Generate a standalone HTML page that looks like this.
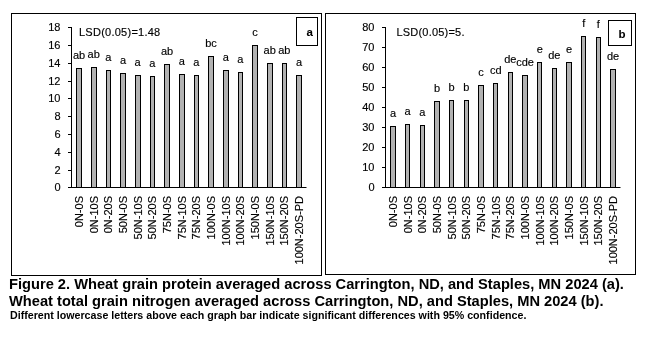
<!DOCTYPE html>
<html><head><meta charset="utf-8"><style>
html,body{margin:0;padding:0;background:#fff;width:645px;height:339px;overflow:hidden;}
svg{position:absolute;left:0;top:0;will-change:transform;}
.cap{position:absolute;left:9px;font-family:"Liberation Sans", sans-serif;font-weight:bold;white-space:nowrap;color:#000;will-change:transform;}
</style></head><body>
<svg width="645" height="339" viewBox="0 0 645 339" font-family='"Liberation Sans", sans-serif' fill="#000" stroke-width="0.15">
<rect x="11.5" y="13.5" width="310" height="262" fill="none" stroke="#000" stroke-width="1"/>
<line x1="71.5" y1="27" x2="71.5" y2="188" stroke="#000" stroke-width="1"/>
<line x1="69" y1="187.5" x2="306.5" y2="187.5" stroke="#000" stroke-width="1"/>
<line x1="68" y1="187.5" x2="72" y2="187.5" stroke="#000" stroke-width="1"/>
<text x="60.5" y="190.5" text-anchor="end" font-size="11" stroke="#000">0</text>
<line x1="68" y1="170.5" x2="72" y2="170.5" stroke="#000" stroke-width="1"/>
<text x="60.5" y="173.5" text-anchor="end" font-size="11" stroke="#000">2</text>
<line x1="68" y1="152.5" x2="72" y2="152.5" stroke="#000" stroke-width="1"/>
<text x="60.5" y="155.5" text-anchor="end" font-size="11" stroke="#000">4</text>
<line x1="68" y1="134.5" x2="72" y2="134.5" stroke="#000" stroke-width="1"/>
<text x="60.5" y="137.5" text-anchor="end" font-size="11" stroke="#000">6</text>
<line x1="68" y1="116.5" x2="72" y2="116.5" stroke="#000" stroke-width="1"/>
<text x="60.5" y="119.5" text-anchor="end" font-size="11" stroke="#000">8</text>
<line x1="68" y1="98.5" x2="72" y2="98.5" stroke="#000" stroke-width="1"/>
<text x="60.5" y="101.5" text-anchor="end" font-size="11" stroke="#000">10</text>
<line x1="68" y1="81.5" x2="72" y2="81.5" stroke="#000" stroke-width="1"/>
<text x="60.5" y="84.5" text-anchor="end" font-size="11" stroke="#000">12</text>
<line x1="68" y1="63.5" x2="72" y2="63.5" stroke="#000" stroke-width="1"/>
<text x="60.5" y="66.5" text-anchor="end" font-size="11" stroke="#000">14</text>
<line x1="68" y1="45.5" x2="72" y2="45.5" stroke="#000" stroke-width="1"/>
<text x="60.5" y="48.5" text-anchor="end" font-size="11" stroke="#000">16</text>
<line x1="68" y1="27.5" x2="72" y2="27.5" stroke="#000" stroke-width="1"/>
<text x="60.5" y="30.5" text-anchor="end" font-size="11" stroke="#000">18</text>
<rect x="76.5" y="68.5" width="5" height="119" fill="#b2b2b2" stroke="#000" stroke-width="1"/>
<text x="79.00" y="59" text-anchor="middle" font-size="11" stroke="#000">ab</text>
<text transform="translate(83.00,196) rotate(-90)" text-anchor="end" font-size="11" stroke="#000">0N-0S</text>
<rect x="91.5" y="67.5" width="5" height="120" fill="#b2b2b2" stroke="#000" stroke-width="1"/>
<text x="93.67" y="58" text-anchor="middle" font-size="11" stroke="#000">ab</text>
<text transform="translate(97.67,196) rotate(-90)" text-anchor="end" font-size="11" stroke="#000">0N-10S</text>
<rect x="106.5" y="70.5" width="4" height="117" fill="#b2b2b2" stroke="#000" stroke-width="1"/>
<text x="108.34" y="61" text-anchor="middle" font-size="11" stroke="#000">a</text>
<text transform="translate(112.34,196) rotate(-90)" text-anchor="end" font-size="11" stroke="#000">0N-20S</text>
<rect x="120.5" y="73.5" width="5" height="114" fill="#b2b2b2" stroke="#000" stroke-width="1"/>
<text x="123.01" y="64" text-anchor="middle" font-size="11" stroke="#000">a</text>
<text transform="translate(127.01,196) rotate(-90)" text-anchor="end" font-size="11" stroke="#000">50N-0S</text>
<rect x="135.5" y="75.5" width="5" height="112" fill="#b2b2b2" stroke="#000" stroke-width="1"/>
<text x="137.68" y="66" text-anchor="middle" font-size="11" stroke="#000">a</text>
<text transform="translate(141.68,196) rotate(-90)" text-anchor="end" font-size="11" stroke="#000">50N-10S</text>
<rect x="150.5" y="76.5" width="4" height="111" fill="#b2b2b2" stroke="#000" stroke-width="1"/>
<text x="152.35" y="67" text-anchor="middle" font-size="11" stroke="#000">a</text>
<text transform="translate(156.35,196) rotate(-90)" text-anchor="end" font-size="11" stroke="#000">50N-20S</text>
<rect x="164.5" y="64.5" width="5" height="123" fill="#b2b2b2" stroke="#000" stroke-width="1"/>
<text x="167.02" y="55" text-anchor="middle" font-size="11" stroke="#000">ab</text>
<text transform="translate(171.02,196) rotate(-90)" text-anchor="end" font-size="11" stroke="#000">75N-0S</text>
<rect x="179.5" y="74.5" width="5" height="113" fill="#b2b2b2" stroke="#000" stroke-width="1"/>
<text x="181.69" y="65" text-anchor="middle" font-size="11" stroke="#000">a</text>
<text transform="translate(185.69,196) rotate(-90)" text-anchor="end" font-size="11" stroke="#000">75N-10S</text>
<rect x="194.5" y="75.5" width="4" height="112" fill="#b2b2b2" stroke="#000" stroke-width="1"/>
<text x="196.36" y="66" text-anchor="middle" font-size="11" stroke="#000">a</text>
<text transform="translate(200.36,196) rotate(-90)" text-anchor="end" font-size="11" stroke="#000">75N-20S</text>
<rect x="208.5" y="56.5" width="5" height="131" fill="#b2b2b2" stroke="#000" stroke-width="1"/>
<text x="211.03" y="47" text-anchor="middle" font-size="11" stroke="#000">bc</text>
<text transform="translate(215.03,196) rotate(-90)" text-anchor="end" font-size="11" stroke="#000">100N-0S</text>
<rect x="223.5" y="70.5" width="5" height="117" fill="#b2b2b2" stroke="#000" stroke-width="1"/>
<text x="225.70" y="61" text-anchor="middle" font-size="11" stroke="#000">a</text>
<text transform="translate(229.70,196) rotate(-90)" text-anchor="end" font-size="11" stroke="#000">100N-10S</text>
<rect x="238.5" y="72.5" width="4" height="115" fill="#b2b2b2" stroke="#000" stroke-width="1"/>
<text x="240.37" y="63" text-anchor="middle" font-size="11" stroke="#000">a</text>
<text transform="translate(244.37,196) rotate(-90)" text-anchor="end" font-size="11" stroke="#000">100N-20S</text>
<rect x="252.5" y="45.5" width="5" height="142" fill="#b2b2b2" stroke="#000" stroke-width="1"/>
<text x="255.04" y="36" text-anchor="middle" font-size="11" stroke="#000">c</text>
<text transform="translate(259.04,196) rotate(-90)" text-anchor="end" font-size="11" stroke="#000">150N-0S</text>
<rect x="267.5" y="63.5" width="5" height="124" fill="#b2b2b2" stroke="#000" stroke-width="1"/>
<text x="269.71" y="54" text-anchor="middle" font-size="11" stroke="#000">ab</text>
<text transform="translate(273.71,196) rotate(-90)" text-anchor="end" font-size="11" stroke="#000">150N-10S</text>
<rect x="282.5" y="63.5" width="4" height="124" fill="#b2b2b2" stroke="#000" stroke-width="1"/>
<text x="284.38" y="54" text-anchor="middle" font-size="11" stroke="#000">ab</text>
<text transform="translate(288.38,196) rotate(-90)" text-anchor="end" font-size="11" stroke="#000">150N-20S</text>
<rect x="296.5" y="75.5" width="5" height="112" fill="#b2b2b2" stroke="#000" stroke-width="1"/>
<text x="299.05" y="66" text-anchor="middle" font-size="11" stroke="#000">a</text>
<text transform="translate(303.05,196) rotate(-90)" text-anchor="end" font-size="11" stroke="#000">100N-20S-PD</text>
<text x="79" y="36" font-size="11" letter-spacing="0.25" stroke="#000">LSD(0.05)=1.48</text>
<rect x="296.5" y="17.5" width="21" height="28" fill="#fff" stroke="#000" stroke-width="1"/>
<text x="309.7" y="36" text-anchor="middle" font-size="11.5" font-weight="bold" stroke="#000" stroke-width="0.05">a</text>
<rect x="325.5" y="13.5" width="310" height="261" fill="none" stroke="#000" stroke-width="1"/>
<line x1="385.5" y1="27" x2="385.5" y2="188" stroke="#000" stroke-width="1"/>
<line x1="383" y1="187.5" x2="620.5" y2="187.5" stroke="#000" stroke-width="1"/>
<line x1="382" y1="187.5" x2="386" y2="187.5" stroke="#000" stroke-width="1"/>
<text x="374.5" y="190.5" text-anchor="end" font-size="11" stroke="#000">0</text>
<line x1="382" y1="167.5" x2="386" y2="167.5" stroke="#000" stroke-width="1"/>
<text x="374.5" y="170.5" text-anchor="end" font-size="11" stroke="#000">10</text>
<line x1="382" y1="147.5" x2="386" y2="147.5" stroke="#000" stroke-width="1"/>
<text x="374.5" y="150.5" text-anchor="end" font-size="11" stroke="#000">20</text>
<line x1="382" y1="127.5" x2="386" y2="127.5" stroke="#000" stroke-width="1"/>
<text x="374.5" y="130.5" text-anchor="end" font-size="11" stroke="#000">30</text>
<line x1="382" y1="107.5" x2="386" y2="107.5" stroke="#000" stroke-width="1"/>
<text x="374.5" y="110.5" text-anchor="end" font-size="11" stroke="#000">40</text>
<line x1="382" y1="87.5" x2="386" y2="87.5" stroke="#000" stroke-width="1"/>
<text x="374.5" y="90.5" text-anchor="end" font-size="11" stroke="#000">50</text>
<line x1="382" y1="67.5" x2="386" y2="67.5" stroke="#000" stroke-width="1"/>
<text x="374.5" y="70.5" text-anchor="end" font-size="11" stroke="#000">60</text>
<line x1="382" y1="47.5" x2="386" y2="47.5" stroke="#000" stroke-width="1"/>
<text x="374.5" y="50.5" text-anchor="end" font-size="11" stroke="#000">70</text>
<line x1="382" y1="27.5" x2="386" y2="27.5" stroke="#000" stroke-width="1"/>
<text x="374.5" y="30.5" text-anchor="end" font-size="11" stroke="#000">80</text>
<rect x="390.5" y="126.5" width="5" height="61" fill="#b2b2b2" stroke="#000" stroke-width="1"/>
<text x="393.00" y="117" text-anchor="middle" font-size="11" stroke="#000">a</text>
<text transform="translate(397.00,196) rotate(-90)" text-anchor="end" font-size="11" stroke="#000">0N-0S</text>
<rect x="405.5" y="124.5" width="4" height="63" fill="#b2b2b2" stroke="#000" stroke-width="1"/>
<text x="407.67" y="115" text-anchor="middle" font-size="11" stroke="#000">a</text>
<text transform="translate(411.67,196) rotate(-90)" text-anchor="end" font-size="11" stroke="#000">0N-10S</text>
<rect x="420.5" y="125.5" width="4" height="62" fill="#b2b2b2" stroke="#000" stroke-width="1"/>
<text x="422.34" y="116" text-anchor="middle" font-size="11" stroke="#000">a</text>
<text transform="translate(426.34,196) rotate(-90)" text-anchor="end" font-size="11" stroke="#000">0N-20S</text>
<rect x="434.5" y="101.5" width="5" height="86" fill="#b2b2b2" stroke="#000" stroke-width="1"/>
<text x="437.01" y="92" text-anchor="middle" font-size="11" stroke="#000">b</text>
<text transform="translate(441.01,196) rotate(-90)" text-anchor="end" font-size="11" stroke="#000">50N-0S</text>
<rect x="449.5" y="100.5" width="4" height="87" fill="#b2b2b2" stroke="#000" stroke-width="1"/>
<text x="451.68" y="91" text-anchor="middle" font-size="11" stroke="#000">b</text>
<text transform="translate(455.68,196) rotate(-90)" text-anchor="end" font-size="11" stroke="#000">50N-10S</text>
<rect x="464.5" y="100.5" width="4" height="87" fill="#b2b2b2" stroke="#000" stroke-width="1"/>
<text x="466.35" y="91" text-anchor="middle" font-size="11" stroke="#000">b</text>
<text transform="translate(470.35,196) rotate(-90)" text-anchor="end" font-size="11" stroke="#000">50N-20S</text>
<rect x="478.5" y="85.5" width="5" height="102" fill="#b2b2b2" stroke="#000" stroke-width="1"/>
<text x="481.02" y="76" text-anchor="middle" font-size="11" stroke="#000">c</text>
<text transform="translate(485.02,196) rotate(-90)" text-anchor="end" font-size="11" stroke="#000">75N-0S</text>
<rect x="493.5" y="83.5" width="4" height="104" fill="#b2b2b2" stroke="#000" stroke-width="1"/>
<text x="495.69" y="74" text-anchor="middle" font-size="11" stroke="#000">cd</text>
<text transform="translate(499.69,196) rotate(-90)" text-anchor="end" font-size="11" stroke="#000">75N-10S</text>
<rect x="508.5" y="72.5" width="4" height="115" fill="#b2b2b2" stroke="#000" stroke-width="1"/>
<text x="510.36" y="63" text-anchor="middle" font-size="11" stroke="#000">de</text>
<text transform="translate(514.36,196) rotate(-90)" text-anchor="end" font-size="11" stroke="#000">75N-20S</text>
<rect x="522.5" y="75.5" width="5" height="112" fill="#b2b2b2" stroke="#000" stroke-width="1"/>
<text x="525.03" y="66" text-anchor="middle" font-size="11" stroke="#000">cde</text>
<text transform="translate(529.03,196) rotate(-90)" text-anchor="end" font-size="11" stroke="#000">100N-0S</text>
<rect x="537.5" y="62.5" width="4" height="125" fill="#b2b2b2" stroke="#000" stroke-width="1"/>
<text x="539.70" y="53" text-anchor="middle" font-size="11" stroke="#000">e</text>
<text transform="translate(543.70,196) rotate(-90)" text-anchor="end" font-size="11" stroke="#000">100N-10S</text>
<rect x="552.5" y="68.5" width="4" height="119" fill="#b2b2b2" stroke="#000" stroke-width="1"/>
<text x="554.37" y="59" text-anchor="middle" font-size="11" stroke="#000">de</text>
<text transform="translate(558.37,196) rotate(-90)" text-anchor="end" font-size="11" stroke="#000">100N-20S</text>
<rect x="566.5" y="62.5" width="5" height="125" fill="#b2b2b2" stroke="#000" stroke-width="1"/>
<text x="569.04" y="53" text-anchor="middle" font-size="11" stroke="#000">e</text>
<text transform="translate(573.04,196) rotate(-90)" text-anchor="end" font-size="11" stroke="#000">150N-0S</text>
<rect x="581.5" y="36.5" width="4" height="151" fill="#b2b2b2" stroke="#000" stroke-width="1"/>
<text x="583.71" y="27" text-anchor="middle" font-size="11" stroke="#000">f</text>
<text transform="translate(587.71,196) rotate(-90)" text-anchor="end" font-size="11" stroke="#000">150N-10S</text>
<rect x="596.5" y="37.5" width="4" height="150" fill="#b2b2b2" stroke="#000" stroke-width="1"/>
<text x="598.38" y="28" text-anchor="middle" font-size="11" stroke="#000">f</text>
<text transform="translate(602.38,196) rotate(-90)" text-anchor="end" font-size="11" stroke="#000">150N-20S</text>
<rect x="610.5" y="69.5" width="5" height="118" fill="#b2b2b2" stroke="#000" stroke-width="1"/>
<text x="613.05" y="60" text-anchor="middle" font-size="11" stroke="#000">de</text>
<text transform="translate(617.05,196) rotate(-90)" text-anchor="end" font-size="11" stroke="#000">100N-20S-PD</text>
<text x="396.5" y="36" font-size="11" letter-spacing="0.2" stroke="#000">LSD(0.05)=5.</text>
<rect x="608.5" y="20.5" width="23" height="25" fill="#fff" stroke="#000" stroke-width="1"/>
<text x="622" y="37.5" text-anchor="middle" font-size="11.5" font-weight="bold" stroke="#000" stroke-width="0.05">b</text>
</svg>
<div class="cap" style="top:276px;font-size:14.67px;line-height:17px">Figure 2. Wheat grain protein averaged across Carrington, ND, and Staples, MN 2024 (a).</div>
<div class="cap" style="top:293px;font-size:14.67px;line-height:17px">Wheat total grain nitrogen averaged across Carrington, ND, and Staples, MN 2024 (b).</div>
<div class="cap" style="top:309px;left:10px;font-size:10.67px;line-height:12px">Different lowercase letters above each graph bar indicate significant differences with 95% confidence.</div>
</body></html>
